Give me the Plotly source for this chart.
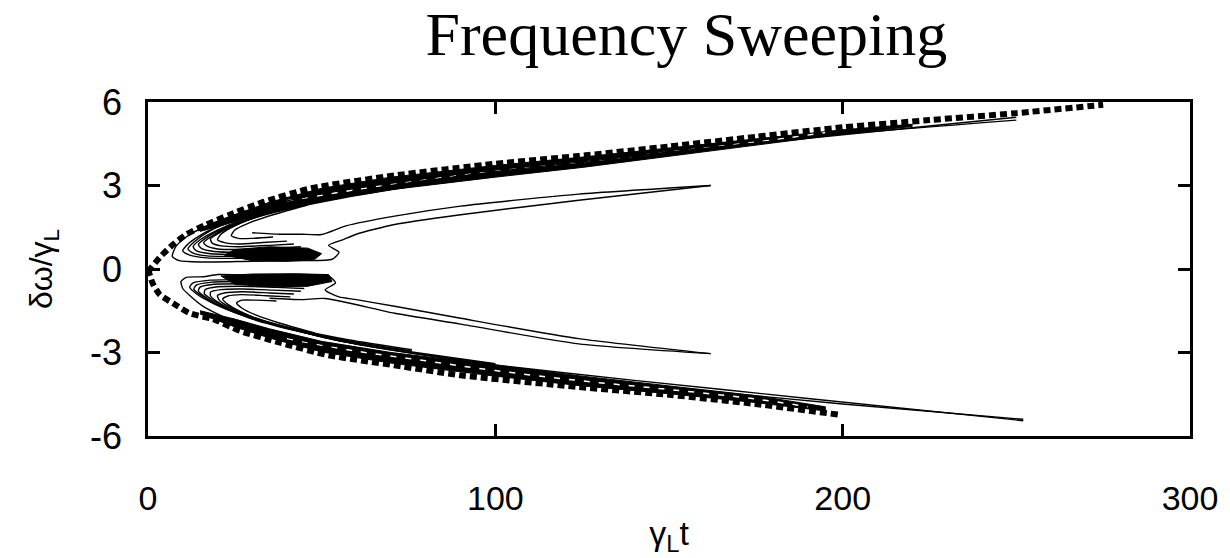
import plotly.graph_objects as go

# ---- data ----
# outer dashed ridges (thick square dots)
dash_up_t = [0, 3.4, 7.2, 11, 16.8, 23.5, 33, 47, 71, 100, 124, 150, 175, 200, 225, 250, 275]
dash_up_v = [-0.1, 0.42, 0.88, 1.24, 1.6, 1.95, 2.4, 2.9, 3.36, 3.78, 4.06, 4.4, 4.75, 5.09, 5.35, 5.6, 5.9]
dash_lo_t = [0, 1.4, 3.4, 7.2, 12, 18.7, 26.4, 37.8, 52, 71, 90, 124, 150, 175, 198.6]
dash_lo_v = [0, -0.53, -0.92, -1.23, -1.59, -1.8, -2.22, -2.64, -3.1, -3.46, -3.82, -4.24, -4.52, -4.85, -5.23]

# dense contour bands just inside the dashed ridges
band_up_t = [15, 25, 35, 50, 70, 100, 125, 150, 175, 200, 220]
band_up_outer = [1.45, 1.95, 2.4, 2.9, 3.3, 3.72, 4.02, 4.35, 4.68, 5.0, 5.2]
band_up_inner = [1.35, 1.7, 2.05, 2.45, 2.85, 3.3, 3.65, 4.05, 4.45, 4.85, 5.12]
band_lo_t = [15, 25, 35, 50, 70, 100, 125, 150, 175, 195]
band_lo_outer = [-1.62, -2.08, -2.48, -2.98, -3.38, -3.85, -4.2, -4.48, -4.8, -5.1]
band_lo_inner = [-1.5, -1.8, -2.15, -2.6, -3.0, -3.45, -3.85, -4.2, -4.55, -4.95]

# speckle lines (white gaps) inside the bands
speck_up_t = [40, 60, 80, 100, 125, 150, 175, 195]
speck_up_v = [2.45, 2.85, 3.2, 3.52, 3.85, 4.2, 4.56, 4.9]
speck_lo_t = [40, 60, 80, 100, 125, 150, 175, 190]
speck_lo_v = [-2.5, -2.95, -3.3, -3.65, -4.02, -4.33, -4.67, -4.95]

# solid black blobs near the centre line
blob_up_t = [22, 30, 40, 48, 50, 46, 35, 25, 22]
blob_up_v = [0.5, 0.3, 0.28, 0.35, 0.55, 0.75, 0.8, 0.7, 0.5]
blob_lo_t = [21, 30, 42, 52, 53, 46, 35, 25, 21]
blob_lo_v = [-0.25, -0.18, -0.17, -0.2, -0.45, -0.62, -0.64, -0.55, -0.25]

# outermost contours (band -> tip -> centre -> inner branch)
out_up_t = [250, 200, 150, 110, 75, 50, 35, 24, 16, 11, 8, 7, 9, 15, 30, 45, 53, 55, 52, 56, 60, 71, 90, 124, 162]
out_up_v = [5.35, 4.85, 4.2, 3.7, 3.2, 2.7, 2.3, 1.9, 1.5, 1.15, 0.8, 0.45, 0.3, 0.25, 0.28, 0.3, 0.35, 0.6, 0.85, 1.05, 1.25, 1.6, 1.95, 2.47, 3.0]
out_lo_t = [252, 200, 150, 110, 75, 50, 35, 24, 16, 12, 10, 9.5, 11, 16, 20, 30, 45, 52, 54, 51, 55, 60, 71, 90, 124, 162]
out_lo_v = [-5.4, -4.85, -4.25, -3.7, -3.15, -2.7, -2.3, -1.85, -1.35, -0.95, -0.7, -0.45, -0.3, -0.28, -0.2, -0.22, -0.2, -0.25, -0.5, -0.75, -1.0, -1.1, -1.34, -1.77, -2.5, -3.04]

# inner branches
br_up_t = [162, 124, 90, 71, 57, 50, 44, 38, 30]
br_up_v = [3.0, 2.69, 2.26, 1.9, 1.55, 1.24, 1.25, 1.25, 1.3]
br_lo_t = [162, 124, 90, 71, 51, 44, 35]
br_lo_v = [-3.04, -2.69, -1.98, -1.59, -1.06, -1.1, -1.05]

# nested chevron contours (upper half)
u2_t = [48, 40, 28, 17, 12, 10, 12, 17, 25, 36, 50, 70, 100, 140, 190, 250]
u2_v = [0.45, 0.4, 0.38, 0.4, 0.5, 0.65, 0.95, 1.35, 1.75, 2.15, 2.55, 3.0, 3.5, 4.05, 4.7, 5.45]
u3_t = [47, 39, 27, 17, 13, 11.5, 13.5, 18, 26, 38, 52, 72, 100]
u3_v = [0.52, 0.48, 0.45, 0.47, 0.57, 0.72, 1.0, 1.38, 1.78, 2.18, 2.58, 3.02, 3.48]
u4_t = [46, 38, 26, 18, 14, 13, 15, 20, 28, 40, 55, 75, 100]
u4_v = [0.6, 0.55, 0.52, 0.55, 0.65, 0.8, 1.05, 1.4, 1.8, 2.2, 2.6, 3.05, 3.45]
u5_t = [45, 37, 26, 19, 15.5, 14.5, 16.5, 21.5, 29.5, 41, 56, 75]
u5_v = [0.7, 0.65, 0.6, 0.63, 0.73, 0.88, 1.1, 1.45, 1.82, 2.2, 2.58, 3.0]
u6_t = [44, 36, 26, 20, 17, 16, 18, 23, 31, 42, 56, 75]
u6_v = [0.8, 0.75, 0.7, 0.72, 0.82, 0.95, 1.15, 1.5, 1.85, 2.2, 2.55, 2.95]
u7_t = [42, 35, 26, 21, 18.5, 18, 21, 27, 35, 46, 60]
u7_v = [0.9, 0.85, 0.8, 0.83, 0.93, 1.08, 1.33, 1.68, 2.02, 2.38, 2.72]
u8_t = [40, 33, 26, 22, 20, 21, 25, 32, 42, 55]
u8_v = [1.0, 0.95, 0.9, 0.95, 1.05, 1.25, 1.55, 1.9, 2.25, 2.6]
u9_t = [36, 30, 26, 24, 25, 29, 36, 46]
u9_v = [1.15, 1.1, 1.1, 1.2, 1.4, 1.65, 1.95, 2.3]

# nested chevron contours (lower half)
l2_t = [48, 40, 28, 18, 13, 12, 14, 19, 27, 38, 52, 72, 100, 140, 190, 252]
l2_v = [-0.42, -0.4, -0.38, -0.4, -0.5, -0.65, -0.9, -1.25, -1.65, -2.05, -2.5, -2.95, -3.45, -4.0, -4.65, -5.45]
l3_t = [47, 39, 27.5, 18.5, 14, 13.2, 15.5, 20.5, 28.5, 40, 54, 74, 100]
l3_v = [-0.5, -0.48, -0.45, -0.47, -0.57, -0.72, -0.97, -1.32, -1.72, -2.12, -2.55, -2.98, -3.42]
l4_t = [46, 38, 27, 19, 15, 14.5, 17, 22, 30, 42, 57, 77, 100]
l4_v = [-0.6, -0.56, -0.53, -0.55, -0.65, -0.8, -1.05, -1.4, -1.8, -2.2, -2.6, -3.0, -3.4]
l5_t = [45, 37, 27, 20, 16.5, 16.2, 18.5, 23.5, 31.5, 43, 57.5, 76]
l5_v = [-0.7, -0.66, -0.62, -0.64, -0.74, -0.88, -1.11, -1.45, -1.82, -2.2, -2.58, -2.95]
l6_t = [44, 36, 27, 21, 18, 18, 20, 25, 33, 44, 58, 76]
l6_v = [-0.8, -0.76, -0.72, -0.74, -0.83, -0.97, -1.18, -1.5, -1.85, -2.2, -2.55, -2.9]
l7_t = [42, 35, 27, 22, 20, 20.5, 23.5, 29.5, 38.5, 50, 62]
l7_v = [-0.9, -0.86, -0.82, -0.86, -0.95, -1.12, -1.37, -1.7, -2.05, -2.42, -2.75]
l8_t = [41, 34, 27, 23, 21.5, 23, 27, 34, 44, 56]
l8_v = [-1.0, -0.96, -0.92, -0.97, -1.08, -1.27, -1.55, -1.9, -2.25, -2.6]
l9_t = [37, 31, 27, 25.5, 27, 31, 38, 48]
l9_v = [-1.15, -1.12, -1.12, -1.22, -1.4, -1.65, -1.95, -2.3]

x_ticks = [0, 100, 200, 300]
y_ticks = [-6, -3, 0, 3, 6]

# ---- figure ----
fig = go.Figure()

def fill_band(t, outer, inner):
    xs = list(t) + list(reversed(t))
    ys = list(outer) + list(reversed(inner))
    fig.add_trace(go.Scatter(x=xs, y=ys, mode="lines", fill="toself",
                             fillcolor="black", line=dict(color="black", width=1),
                             hoverinfo="skip", showlegend=False))

fill_band(band_up_t, band_up_outer, band_up_inner)
fill_band(band_lo_t, band_lo_outer, band_lo_inner)

for bt, bv in [(blob_up_t, blob_up_v), (blob_lo_t, blob_lo_v)]:
    fig.add_trace(go.Scatter(x=bt, y=bv, mode="lines", fill="toself", fillcolor="black",
                             line=dict(color="black", width=1), showlegend=False))

for tt, vv in [(speck_up_t, speck_up_v), (speck_lo_t, speck_lo_v)]:
    fig.add_trace(go.Scatter(x=tt, y=vv, mode="lines",
                             line=dict(color="white", width=1.5, dash="6px,9px", shape="spline"),
                             showlegend=False))

thin = [(out_up_t, out_up_v), (out_lo_t, out_lo_v), (br_up_t, br_up_v), (br_lo_t, br_lo_v),
        (u2_t, u2_v), (u3_t, u3_v), (u4_t, u4_v), (u5_t, u5_v), (u6_t, u6_v),
        (u7_t, u7_v), (u8_t, u8_v), (u9_t, u9_v),
        (l2_t, l2_v), (l3_t, l3_v), (l4_t, l4_v), (l5_t, l5_v), (l6_t, l6_v),
        (l7_t, l7_v), (l8_t, l8_v), (l9_t, l9_v)]
for tt, vv in thin:
    fig.add_trace(go.Scatter(x=tt, y=vv, mode="lines",
                             line=dict(color="black", width=1.4, shape="spline", smoothing=0.6),
                             showlegend=False))

for tt, vv in [(dash_up_t, dash_up_v), (dash_lo_t, dash_lo_v)]:
    fig.add_trace(go.Scatter(x=tt, y=vv, mode="lines",
                             line=dict(color="black", width=6, dash="7px,4px", shape="spline", smoothing=0.6),
                             showlegend=False))

axis_common = dict(showline=True, linecolor="black", linewidth=2.5, mirror="ticks",
                   ticks="inside", ticklen=12, tickwidth=2.5, tickcolor="black",
                   showgrid=False, zeroline=False)

fig.update_layout(
    width=1230, height=558,
    paper_bgcolor="white", plot_bgcolor="white",
    margin=dict(l=148, r=35, t=102, b=115),
    title=dict(text="Frequency Sweeping", x=0.558, xanchor="center", y=0.94, yanchor="middle",
               font=dict(family="Liberation Serif", size=62, color="black")),
    xaxis=dict(range=[0, 300], tickvals=x_ticks, ticktext=[str(v) for v in x_ticks],
               tickfont=dict(family="Liberation Sans", size=34, color="black"),
               ticklabelstandoff=30,
               title=dict(text="γ<sub>L</sub>t", standoff=6,
                          font=dict(family="Liberation Sans", size=34, color="black")),
               **axis_common),
    yaxis=dict(range=[-6, 6], tickvals=y_ticks, ticktext=[str(v) for v in y_ticks],
               tickfont=dict(family="Liberation Sans", size=36, color="black"),
               ticklabelstandoff=16,
               title=dict(text="δω/γ<sub>L</sub>", standoff=28,
                          font=dict(family="Liberation Sans", size=32, color="black")),
               **axis_common),
)

fig.write_html("out.html")
